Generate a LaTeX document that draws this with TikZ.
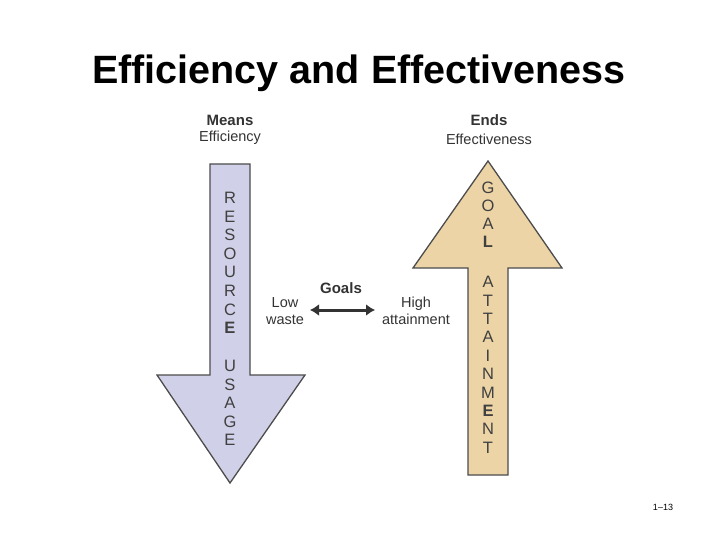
\documentclass[tikz,border=0pt]{standalone}
\usepackage{fontspec}
\setmainfont{Liberation Sans}
\usetikzlibrary{arrows.meta}
\begin{document}
\begin{tikzpicture}[x=1pt,y=-1pt,
  lbl/.style={inner sep=0pt,font=\fontsize{14.5}{17}\selectfont,text=black!80},
  lett/.style={inner sep=0pt,font=\fontsize{16.5}{16}\selectfont,text=black!75},
  arr/.style={draw=black!70,line width=1.3pt,line join=miter}]
\useasboundingbox (0,0) rectangle (720,540);
\node[inner sep=0pt,font=\fontsize{39.5}{44}\selectfont\bfseries] (title) at (359,73) {Efficiency and Effectiveness};
\draw[arr,fill={rgb,255:red,208;green,208;blue,232}] (210,164) -- (250,164) -- (250,375) -- (305,375) -- (230,483) -- (157,375) -- (210,375) -- cycle;
\draw[arr,fill={rgb,255:red,236;green,212;blue,166}] (468,475) -- (508,475) -- (508,268) -- (562,268) -- (488,161) -- (413,268) -- (468,268) -- cycle;
\node[lbl,font=\fontsize{15}{17}\selectfont\bfseries] (means) at (230,120) {Means};
\node[lbl] (eff) at (230,138) {Efficiency};
\node[lbl,font=\fontsize{15}{17}\selectfont\bfseries] (ends) at (489,120) {Ends};
\node[lbl] (effv) at (489,139) {Effectiveness};
\foreach \c [count=\i] in {R,E,S,O,U,R,C,{\bfseries E}}
  \node[lett] (l\i) at (230,{198+(\i-1)*18.6}) {\c};
\foreach \c [count=\i] in {U,S,A,G,E}
  \node[lett] (u\i) at (230,{366+(\i-1)*18.5}) {\c};
\foreach \c [count=\i] in {G,O,A,{\bfseries L}}
  \node[lett] (g\i) at (488,{188+(\i-1)*18}) {\c};
\foreach \c [count=\i] in {A,T,T,A,I,N,M,{\bfseries E},N,T}
  \node[lett] (a\i) at (488,{282+(\i-1)*18.4}) {\c};
\node[lbl,font=\fontsize{15}{17}\selectfont\bfseries] (goals) at (341,288) {Goals};
\node[lbl,align=center] (low) at (285,311) {Low\\waste};
\node[lbl,align=center] (high) at (416,311) {High\\attainment};
\coordinate (la) at (310,310);
\coordinate (ra) at (375,310);
\draw[{Latex[length=9pt,width=12pt]}-{Latex[length=9pt,width=12pt]},line width=3pt,black!80] (la) -- (ra);
\node[inner sep=0pt,font=\fontsize{9}{10}\selectfont] (pg) at (663,507) {1–13};
\end{tikzpicture}
\end{document}
